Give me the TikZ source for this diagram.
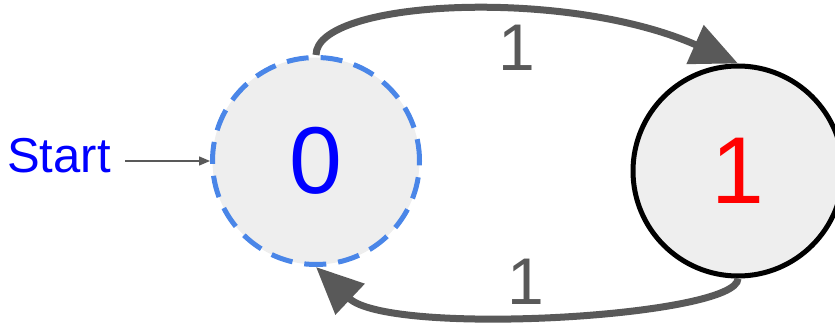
\documentclass[tikz,border=0pt]{standalone}
\usepackage{fontspec}
\setmainfont{Liberation Sans}
\usepackage{xcolor}
\definecolor{stblue}{RGB}{0,0,255}
\definecolor{stred}{RGB}{255,0,0}
\definecolor{stdash}{RGB}{74,134,232}
\definecolor{stgray}{RGB}{89,89,89}
\definecolor{stfill}{RGB}{238,238,238}
\usetikzlibrary{arrows.meta}

\tikzset{
  statenode/.style={circle, fill=stfill, inner sep=0pt, minimum size=207pt},
  trans/.style={line width=7pt, stgray, -{Triangle[length=47pt, width=41pt]}},
  translabel/.style={font=\fontsize{66}{66}\selectfont, stgray}
}

\begin{document}
\begin{tikzpicture}[x=1pt, y=1pt]
  \useasboundingbox (0,0) rectangle (835,322);

  % States
  \node[statenode, draw=stdash, line width=5pt, dash pattern=on 22pt off 12pt,
        font=\fontsize{95}{95}\selectfont, text=stblue] (s0) at (316,161) {0};
  \node[statenode, minimum size=210pt, draw=black, line width=5pt,
        font=\fontsize{95}{95}\selectfont, text=stred] (s1) at (738,151) {1};

  % Start arrow
  \node[font=\fontsize{49}{49}\selectfont, text=stblue] (start) at (59,166) {Start};
  \coordinate (startend) at (125,161);
  \draw[line width=1.5pt, stgray, -{Triangle[length=11pt, width=9pt]}] (startend) -- (s0.west);

  % Transitions
  \draw[trans] (s0.north) .. controls (316,322) and (565,335) .. (s1.north);
  \node[translabel] (t01) at (517,274) {1};

  \draw[trans] (s1.south) .. controls (738,5) and (390,-15) .. (s0.south);
  \node[translabel] (t10) at (526,40) {1};
\end{tikzpicture}
\end{document}
